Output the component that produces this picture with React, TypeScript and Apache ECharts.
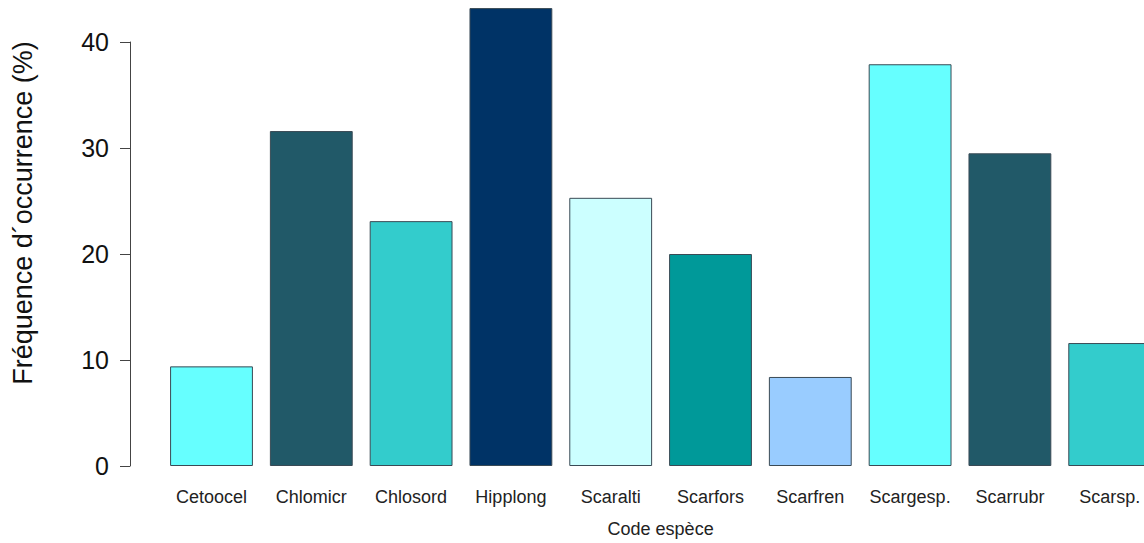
import React, { useEffect, useRef } from "react";
import * as echarts from "echarts";

const categories = ["Cetoocel", "Chlomicr", "Chlosord", "Hipplong", "Scaralti", "Scarfors", "Scarfren", "Scargesp.", "Scarrubr", "Scarsp."];
const values = [9.4, 31.6, 23.1, 43.2, 25.3, 20.0, 8.4, 37.9, 29.5, 11.6];
const barColors = ["#66FFFF", "#215968", "#33CCCC", "#003366", "#CCFFFF", "#009999", "#99CCFF", "#66FFFF", "#215968", "#33CCCC"];
const yTicks = [0, 10, 20, 30, 40];
const yTitle = "Fréquence d´occurrence (%)";
const xTitle = "Code espèce";

export default function App() {
  const ref = useRef<HTMLDivElement>(null);
  useEffect(() => {
    if (!ref.current) return;
    const chart = echarts.init(ref.current, undefined, { renderer: "svg" });
    chart.setOption({
      animation: false,
      backgroundColor: "#ffffff",
      textStyle: { fontFamily: "Liberation Sans, Arial, sans-serif" },
      grid: { left: 161.6, right: 0.4, top: 42, bottom: 77, containLabel: false },
      graphic: [
        {
          type: "text",
          x: 23,
          y: 213,
          rotation: Math.PI / 2,
          style: {
            text: yTitle,
            fill: "#111",
            font: "27px 'Liberation Sans', Arial, sans-serif",
            align: "center",
            verticalAlign: "middle",
          },
        },
      ],
      xAxis: {
        type: "category",
        data: categories,
        axisLine: { show: false },
        axisTick: { show: false },
        axisLabel: { color: "#222", fontSize: 18, margin: 22, interval: 0 },
        name: xTitle,
        nameLocation: "middle",
        nameGap: 54,
        nameTextStyle: { color: "#222", fontSize: 18 },
      },
      yAxis: {
        type: "value",
        min: yTicks[0],
        max: yTicks[yTicks.length - 1],
        interval: 10,
        offset: 31.6,
        axisLine: { show: true, lineStyle: { color: "#444", width: 1 } },
        axisTick: { show: true, length: 10, lineStyle: { color: "#444" } },
        axisLabel: { color: "#111", fontSize: 25, margin: 21 },
        splitLine: { show: false },
      },
      series: [
        {
          type: "bar",
          clip: false,
          barCategoryGap: "17%",
          data: values.map((v, i) => ({
            value: v,
            itemStyle: { color: barColors[i], borderColor: "#3a4a55", borderWidth: 1 },
          })),
        },
      ],
    });
    return () => chart.dispose();
  }, []);
  return (
    <div style={{ position: "fixed", left: 0, top: 0, width: 1144, height: 543, overflow: "hidden", background: "#fff" }}>
      <div ref={ref} style={{ width: 1160, height: 543 }} />
    </div>
  );
}
